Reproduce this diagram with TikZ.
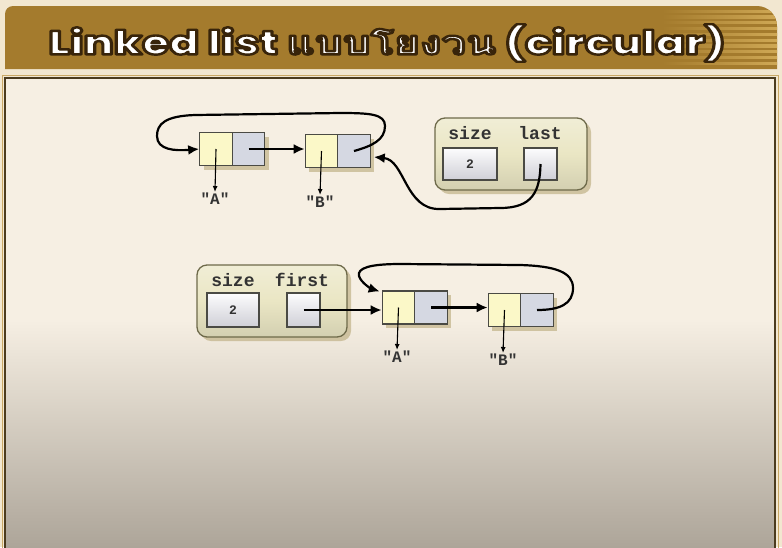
\documentclass[tikz,border=0pt]{standalone}
\usepackage{fontspec}
\setmainfont{Liberation Serif}
\newfontfamily\labelfont{Liberation Mono}
\IfFontExistsTF{Poppins ExtraBold}{\newfontfamily\titlelat{Poppins ExtraBold}}{\newfontfamily\titlelat{DejaVu Sans Bold}}
\newfontfamily\titlethai[Script=Thai]{Loma Bold}
\usetikzlibrary{shadows,arrows.meta,calc}
\definecolor{bgcream}{HTML}{F2E7D0}
\definecolor{gold}{HTML}{A47B2D}
\definecolor{goldstripe}{HTML}{CFA855}
\definecolor{panel}{HTML}{F6EFE3}
\definecolor{panelbot}{HTML}{ADA599}
\definecolor{frame}{HTML}{4B3B1E}
\definecolor{frameout}{HTML}{C9A865}
\definecolor{celly}{HTML}{FBF8C8}
\definecolor{cellg}{HTML}{D5D8E2}
\definecolor{cellborder}{HTML}{4A4A44}
\definecolor{hdrfill}{HTML}{EAE6C4}
\definecolor{hdredge}{HTML}{6E6A4A}
\definecolor{boxfill}{HTML}{E6E6EE}
\definecolor{shadowc}{HTML}{B8A878}
\definecolor{txt}{HTML}{333333}
\tikzset{
  cellbase/.style={draw=cellborder, line width=1.1pt, minimum width=32.5pt, minimum height=33pt, inner sep=0pt,
    drop shadow={shadow xshift=4pt, shadow yshift=-4pt, fill=shadowc, opacity=0.6}},
  datacell/.style={cellbase, fill=celly},
  nextcell/.style={cellbase, fill=cellg},
  hdrbox/.style={draw=hdredge, line width=1.3pt, rounded corners=10pt, inner sep=0pt,
    top color=hdrfill!70!white, bottom color=hdrfill!90!black, middle color=hdrfill,
    drop shadow={shadow xshift=4pt, shadow yshift=-4pt, fill=shadowc, opacity=0.6}},
  valbox/.style={draw=cellborder, line width=1.1pt, inner sep=0pt, top color=white!90!boxfill, bottom color=boxfill!90!black,
    font=\labelfont\bfseries\fontsize{13}{13}\selectfont, text=txt},
  fieldlabel/.style={font=\labelfont\bfseries\fontsize{18}{18}\selectfont, text=txt, inner sep=0pt},
  strlabel/.style={font=\labelfont\bfseries\fontsize{16}{16}\selectfont, text=txt, inner sep=1pt},
  ptr/.style={draw=black, line width=2.2pt, -{Latex[length=11pt,width=10pt]}},
  thinptr/.style={draw=black, line width=1.1pt, -{Latex[length=6pt,width=5pt]}},
  titletxt/.style={inner sep=0pt}
}
\newcommand\mytitle{\special{pdf:literal q 2 Tr 2.6 w 1 j 0.22 0.14 0.04 RG}{\titlelat Linked list }{\titlethai แบบโยงวน}{\titlelat\ (circular)}\special{pdf:literal Q}}
\begin{document}
\begin{tikzpicture}[x=1pt,y=-1pt]
\useasboundingbox (0,0) rectangle (782,547);
\fill[bgcream] (0,0) rectangle (782,547);
% title bar
\fill[gold] (5,69) [rounded corners=8pt] -- (5,6) [rounded corners=20pt] -- (777,6) [sharp corners] -- (777,69) -- cycle;
\begin{scope}
  \clip (5,69) [rounded corners=8pt] -- (5,6) [rounded corners=20pt] -- (777,6) [sharp corners] -- (777,69) -- cycle;
  \foreach \i in {0,...,9} {
    \shade[left color=gold, right color=goldstripe] (662,{10+5.8*\i}) rectangle (777,{12.2+5.8*\i});
  }
\end{scope}
% panel
\fill[panel] (5,78) rectangle (775,547);
\shade[top color=panel, bottom color=panelbot] (5,320) rectangle (775,547);
\draw[frameout, line width=1pt] (2,548) -- (2,75) -- (778,75) -- (778,548);
\draw[frame, line width=2pt] (5,548) -- (5,78) -- (775,78) -- (775,548);
% title text
\node[titletxt, text=white, font=\fontsize{36}{36}\selectfont] (title) at (387,43) {\scalebox{1}[0.76]{\resizebox{677pt}{!}{\mytitle}}};

% ---- top list ----
\node[datacell] (A1d) at (216,149) {};
\node[nextcell] (A1n) at (248.5,149) {};
\node[datacell] (B1d) at (321.5,151) {};
\node[nextcell] (B1n) at (354,151) {};
\node[strlabel] (lA1) at (215,199) {"A"};
\node[strlabel] (lB1) at (320,202) {"B"};
\draw[thinptr] (A1d.center) -- (lA1.north);
\draw[thinptr] (B1d.center) -- (lB1.north);
\draw[ptr] (A1n.center) -- (B1d.west |- A1n.center);
\draw[ptr] (B1n.center) .. controls (372,146) and (385,140) .. (385,126)
  .. controls (385,114) and (370,113) .. (340,113) -- (195,115)
  .. controls (165,116) and (157,124) .. (157,136)
  .. controls (157,150) and (175,151) .. (A1d.west);

\node[hdrbox, minimum width=152pt, minimum height=72pt] (H1) at (511,154) {};
\node[fieldlabel] (H1size) at (470,133) {size};
\node[fieldlabel] (H1last) at (540,133) {last};
\node[valbox, minimum width=54pt, minimum height=32pt] (size1) at (470,164) {2};
\node[valbox, minimum width=33pt, minimum height=32pt] (last1) at (540.5,164) {};
\draw[ptr] (last1.center) .. controls (540,192) and (532,208) .. (500,208) -- (440,209)
  .. controls (405,210) and (405,160) .. ($(B1n.east)+(3,6)$);

% ---- bottom list ----
\node[hdrbox, minimum width=150pt, minimum height=72pt] (H2) at (272,301) {};
\node[fieldlabel] (H2size) at (233,280) {size};
\node[fieldlabel] (H2first) at (302,280) {first};
\node[valbox, minimum width=52pt, minimum height=34pt] (size2) at (233,310) {2};
\node[valbox, minimum width=33pt, minimum height=34pt] (first2) at (303.5,310) {};

\node[datacell] (A2d) at (398.5,307.5) {};
\node[nextcell] (A2n) at (431,307.5) {};
\node[datacell] (B2d) at (504.5,310) {};
\node[nextcell] (B2n) at (537,310) {};
\node[strlabel] (lA2) at (397,357) {"A"};
\node[strlabel] (lB2) at (503,360) {"B"};
\draw[thinptr] (A2d.center) -- (lA2.north);
\draw[thinptr] (B2d.center) -- (lB2.north);
\draw[ptr] (first2.center) -- (A2d.west |- first2.center);
\draw[ptr] (A2n.center) -- (B2d.west |- A2n.center);
\draw[ptr] (B2n.center) .. controls (560,310) and (573,304) .. (573,288)
  .. controls (573,272) and (555,266) .. (520,265) -- (400,264)
  .. controls (370,264) and (357,268) .. (359,276)
  .. controls (361,283) and (372,289) .. ($(A2d.north west)+(-2,1)$);
\end{tikzpicture}
\end{document}
